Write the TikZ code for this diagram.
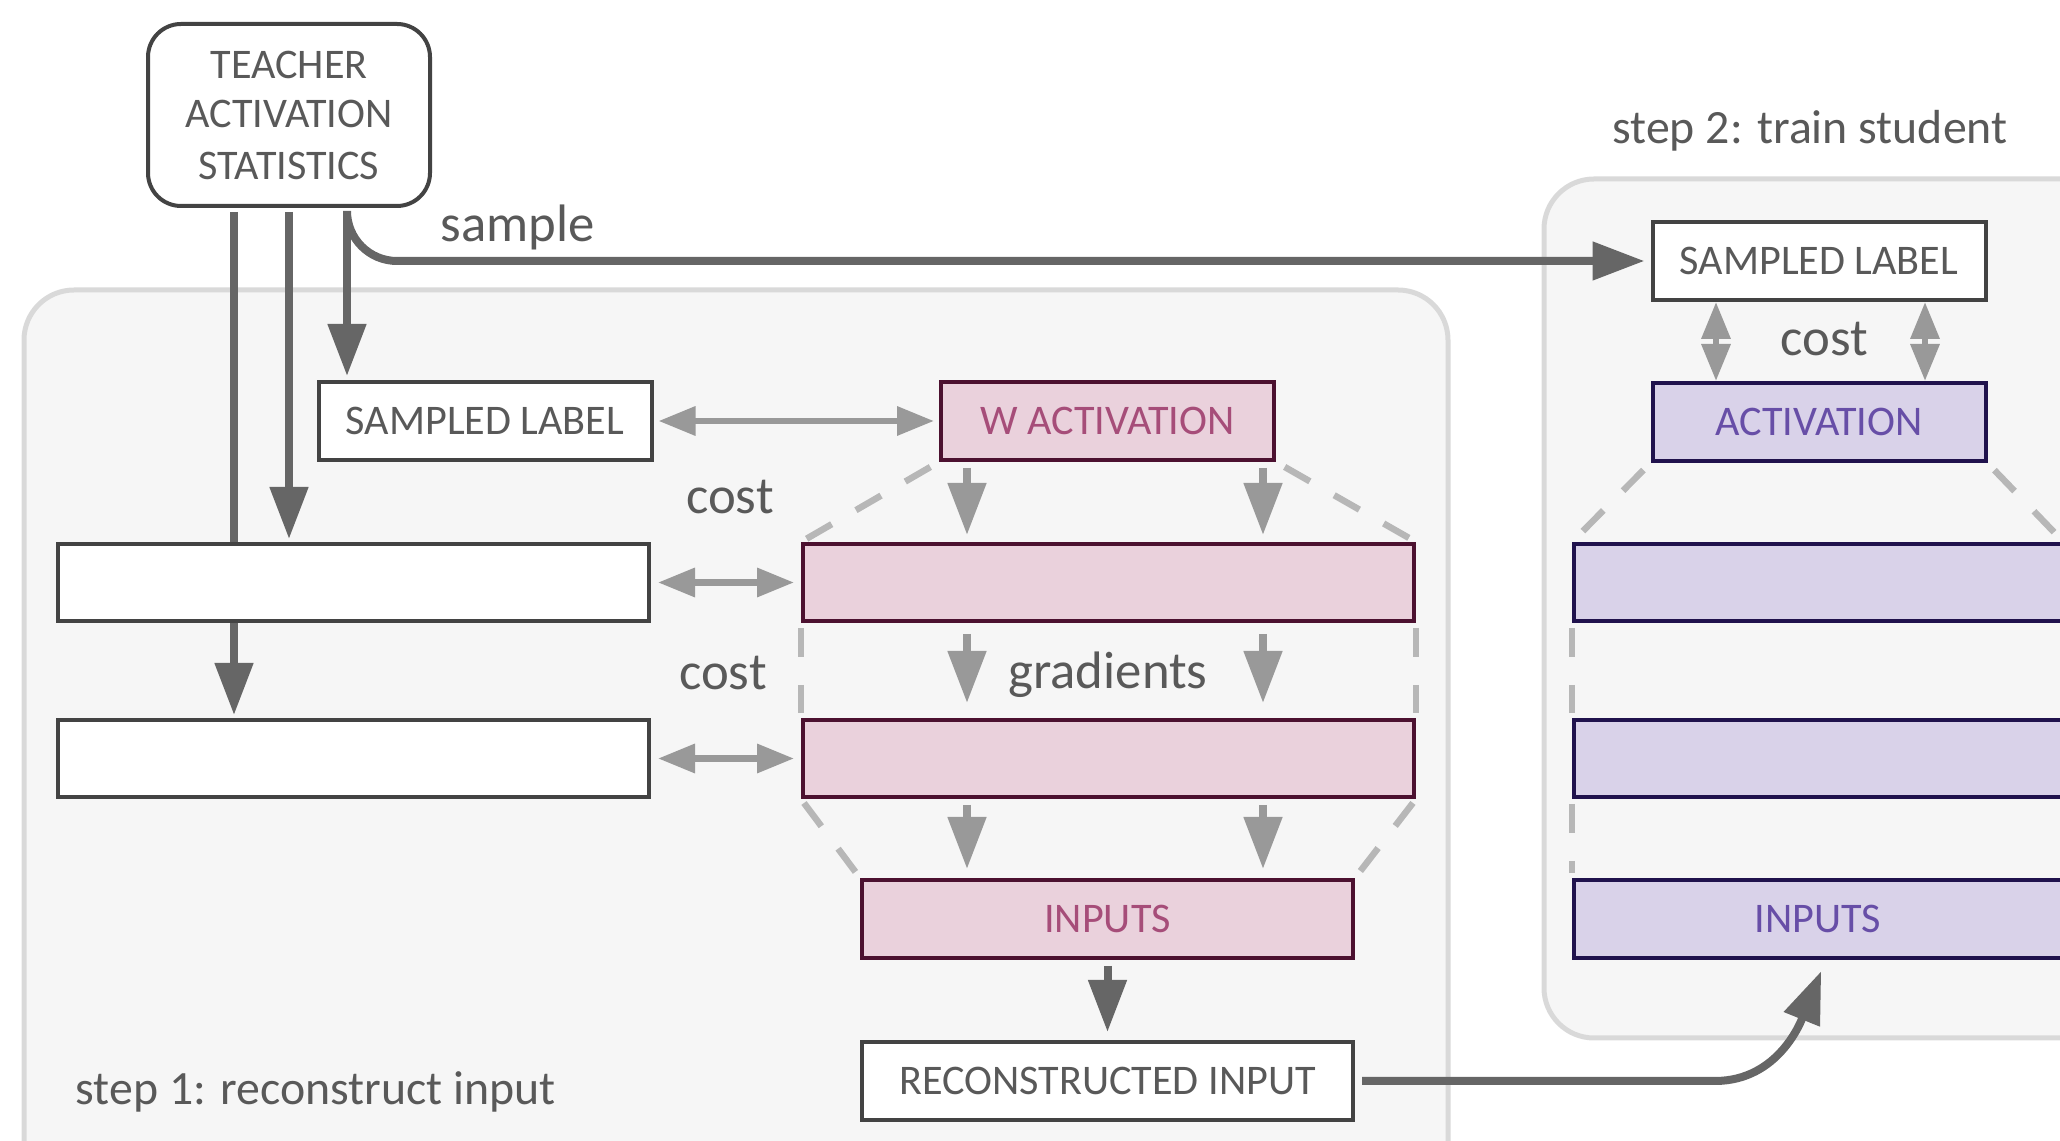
\documentclass[tikz,border=0pt]{standalone}
\usepackage{fontspec}
\setmainfont{Carlito}
\usetikzlibrary{arrows.meta, positioning}

\definecolor{textgray}{HTML}{595959}
\definecolor{boxline}{HTML}{434343}
\definecolor{darkarr}{HTML}{666666}
\definecolor{lightarr}{HTML}{999999}
\definecolor{dashgray}{HTML}{B7B7B7}
\definecolor{panelfill}{HTML}{F6F6F6}
\definecolor{panelline}{HTML}{D9D9D9}
\definecolor{pinkfill}{HTML}{EAD1DC}
\definecolor{pinkline}{HTML}{4C1130}
\definecolor{pinktext}{HTML}{A64D79}
\definecolor{purpfill}{HTML}{D9D2E9}
\definecolor{purpline}{HTML}{20124D}
\definecolor{purptext}{HTML}{674EA7}

\newcommand{\boxfont}{\fontsize{12}{14.8}\selectfont}
\newcommand{\notefont}{\fontsize{15}{18}\selectfont}
\newcommand{\stepfont}{\fontsize{13.6}{16}\selectfont}

\begin{document}
\begin{tikzpicture}[
	node distance=0.95cm and 0em,
	box/.style={rectangle, draw=boxline, line width=0.04cm, fill=white, text=textgray,
		font=\boxfont, inner sep=0pt, minimum width=3.33cm, minimum height=0.78cm},
	layer/.style={box, minimum width=5.91cm, minimum height=0.77cm},
	pinkbox/.style={box, fill=pinkfill, draw=pinkline, text=pinktext},
	purpbox/.style={box, fill=purpfill, draw=purpline, text=purptext},
	panel/.style={draw=panelline, fill=panelfill, line width=0.05cm, rounded corners=0.5cm},
	note/.style={text=textgray, font=\notefont, inner sep=0pt},
	line/.style={draw=darkarr, line width=0.08cm, -{Triangle[length=0.52cm, width=0.37cm]}},
	cost/.style={draw=lightarr, line width=0.065cm,
		{Triangle[length=0.37cm, width=0.28cm]}-{Triangle[length=0.37cm, width=0.28cm]}},
	grad/.style={draw=lightarr, line width=0.08cm, -{Triangle[length=0.52cm, width=0.37cm]}},
	outline/.style={draw=dashgray, line width=0.065cm, dash pattern=on 0.29cm off 0.28cm,
		shorten <=0.05cm, shorten >=0.05cm},
	]
	\useasboundingbox (0,0) rectangle (20.6,-11.41);

	% the two steps
	\path[panel] (0.24,-2.90) rectangle (14.48,-12.3);
	\path[panel] (15.44,-1.79) rectangle (21.3,-10.38);
	\node[note, font=\stepfont, anchor=west] (step1) at (0.75,-10.92) {step 1: reconstruct input};
	\node[note, font=\stepfont] (step2) at (18.10,-1.31) {step 2: train student};

	% step 1
	\node[box, minimum width=2.82cm, minimum height=1.82cm, rounded corners=0.33cm, align=center]
		(teacher) at (2.89,-1.15) {\raisebox{-0.03cm}{TEACHER}\\ACTIVATION\\STATISTICS};
	\node[box] (lbl1) at (4.85,-4.21) {SAMPLED LABEL};
	\node[pinkbox] (wact) at (11.075,-4.21) {W ACTIVATION};
	\node[layer] (tbox1) at (3.535,-5.825) {};
	\node[layer, below=of tbox1] (tbox2) {};
	\node[pinkbox, minimum width=6.11cm, minimum height=0.77cm] (pbox1) at (11.085,-5.825) {};
	\node[pinkbox, minimum width=6.11cm, minimum height=0.77cm, below=of pbox1] (pbox2) {};
	\node[pinkbox, minimum width=4.91cm] (pin) at (11.075,-9.19) {INPUTS};
	\node[box, minimum width=4.91cm, below=0.8cm of pin] (recon) {RECONSTRUCTED INPUT};

	% step 2
	\node[box] (lbl2) at (18.19,-2.61) {SAMPLED LABEL};
	\node[purpbox, below=0.79cm of lbl2] (act) {ACTIVATION};
	\node[purpbox, minimum width=4.875cm, minimum height=0.77cm] (sbox1) at (18.1775,-5.825) {};
	\node[purpbox, minimum width=4.875cm, minimum height=0.77cm, below=of sbox1] (sbox2) {};
	\node[purpbox, minimum width=4.875cm] (sin) at (18.1775,-9.19) {INPUTS};

	% labels
	\node[note] (sample) at (5.18,-2.27) {sample};
	\node[note] (cost1) at (7.30,-4.97) {cost};
	\node[note] (cost2) at (7.23,-6.73) {cost};
	\node[note] (cost3) at (18.24,-3.39) {cost};
	\node[note] (grads) at (11.08,-6.75) {gradients};

	% statistics feed the layers
	\coordinate (c1) at (2.34,0);
	\coordinate (c3) at (3.47,0);
	\draw[line, -, shorten <=0.04cm] (teacher.south -| c1) -- (tbox1.north -| c1);
	\path[line, shorten >=0.03cm] (tbox1.south -| c1) -- (tbox2.north -| c1);
	\path[line, shorten <=0.04cm, shorten >=0.03cm] (teacher.south) -- (tbox1.north -| teacher.south);
	\path[line, shorten <=0.04cm, shorten >=0.04cm] (teacher.south -| c3) -- (lbl1.north -| c3);
	\path[line, rounded corners=0.5cm, shorten <=0.04cm, shorten >=0.06cm]
		(teacher.south -| c3) |- (lbl2.west);

	% costs
	\path[cost, shorten <=0.05cm, shorten >=0.05cm] (lbl1.east) -- (wact.west);
	\path[cost, shorten <=0.07cm, shorten >=0.07cm] (tbox1.east) -- (pbox1.west);
	\path[cost, shorten <=0.07cm, shorten >=0.07cm] (tbox2.east) -- (pbox2.west);
	\coordinate (v1) at (17.16,0);
	\coordinate (v2) at (19.25,0);
	\path[cost] (lbl2.south -| v1) -- (act.north -| v1);
	\path[cost] (lbl2.south -| v2) -- (act.north -| v2);

	% gradients
	\coordinate (g1) at (9.67,0);
	\coordinate (g2) at (12.63,0);
	\foreach \a/\b/\s/\e in {wact/pbox1/0.06/0.07, pbox1/pbox2/0.11/0.15, pbox2/pin/0.06/0.09}
		\foreach \g in {g1,g2}
			\path[grad, shorten <=\s cm, shorten >=\e cm] (\a.south -| \g) -- (\b.north -| \g);

	% network outlines
	\path[outline, shorten <=0.1cm] (wact.south west) -- (pbox1.north west);
	\path[outline, shorten <=0.1cm] (wact.south east) -- (pbox1.north east);
	\path[outline] (pbox1.south west) -- (pbox2.north west);
	\path[outline] (pbox1.south east) -- (pbox2.north east);
	\path[outline] (pbox2.south west) -- (pin.north west);
	\path[outline] (pbox2.south east) -- (pin.north east);
	\path[outline, shorten <=0.1cm] (act.south west) -- (sbox1.north west);
	\path[outline, shorten <=0.1cm] (act.south east) -- (sbox1.north east);
	\path[outline] (sbox1.south west) -- (sbox2.north west);
	\path[outline] (sbox1.south east) -- (sbox2.north east);
	\path[outline] (sbox2.south west) -- (sin.north west);
	\path[outline] (sbox2.south east) -- (sin.north east);

	% reconstruction and hand-over
	\path[line, shorten <=0.06cm, shorten >=0.08cm] (pin.south) -- (recon.north);
	\coordinate (bend) at (17.15,0);
	\path[line, shorten <=0.07cm, shorten >=0.12cm]
		(recon.east) -- (recon.east -| bend) to[out=0, in=-112] ([xshift=0.08cm]sin.south);
\end{tikzpicture}
\end{document}
